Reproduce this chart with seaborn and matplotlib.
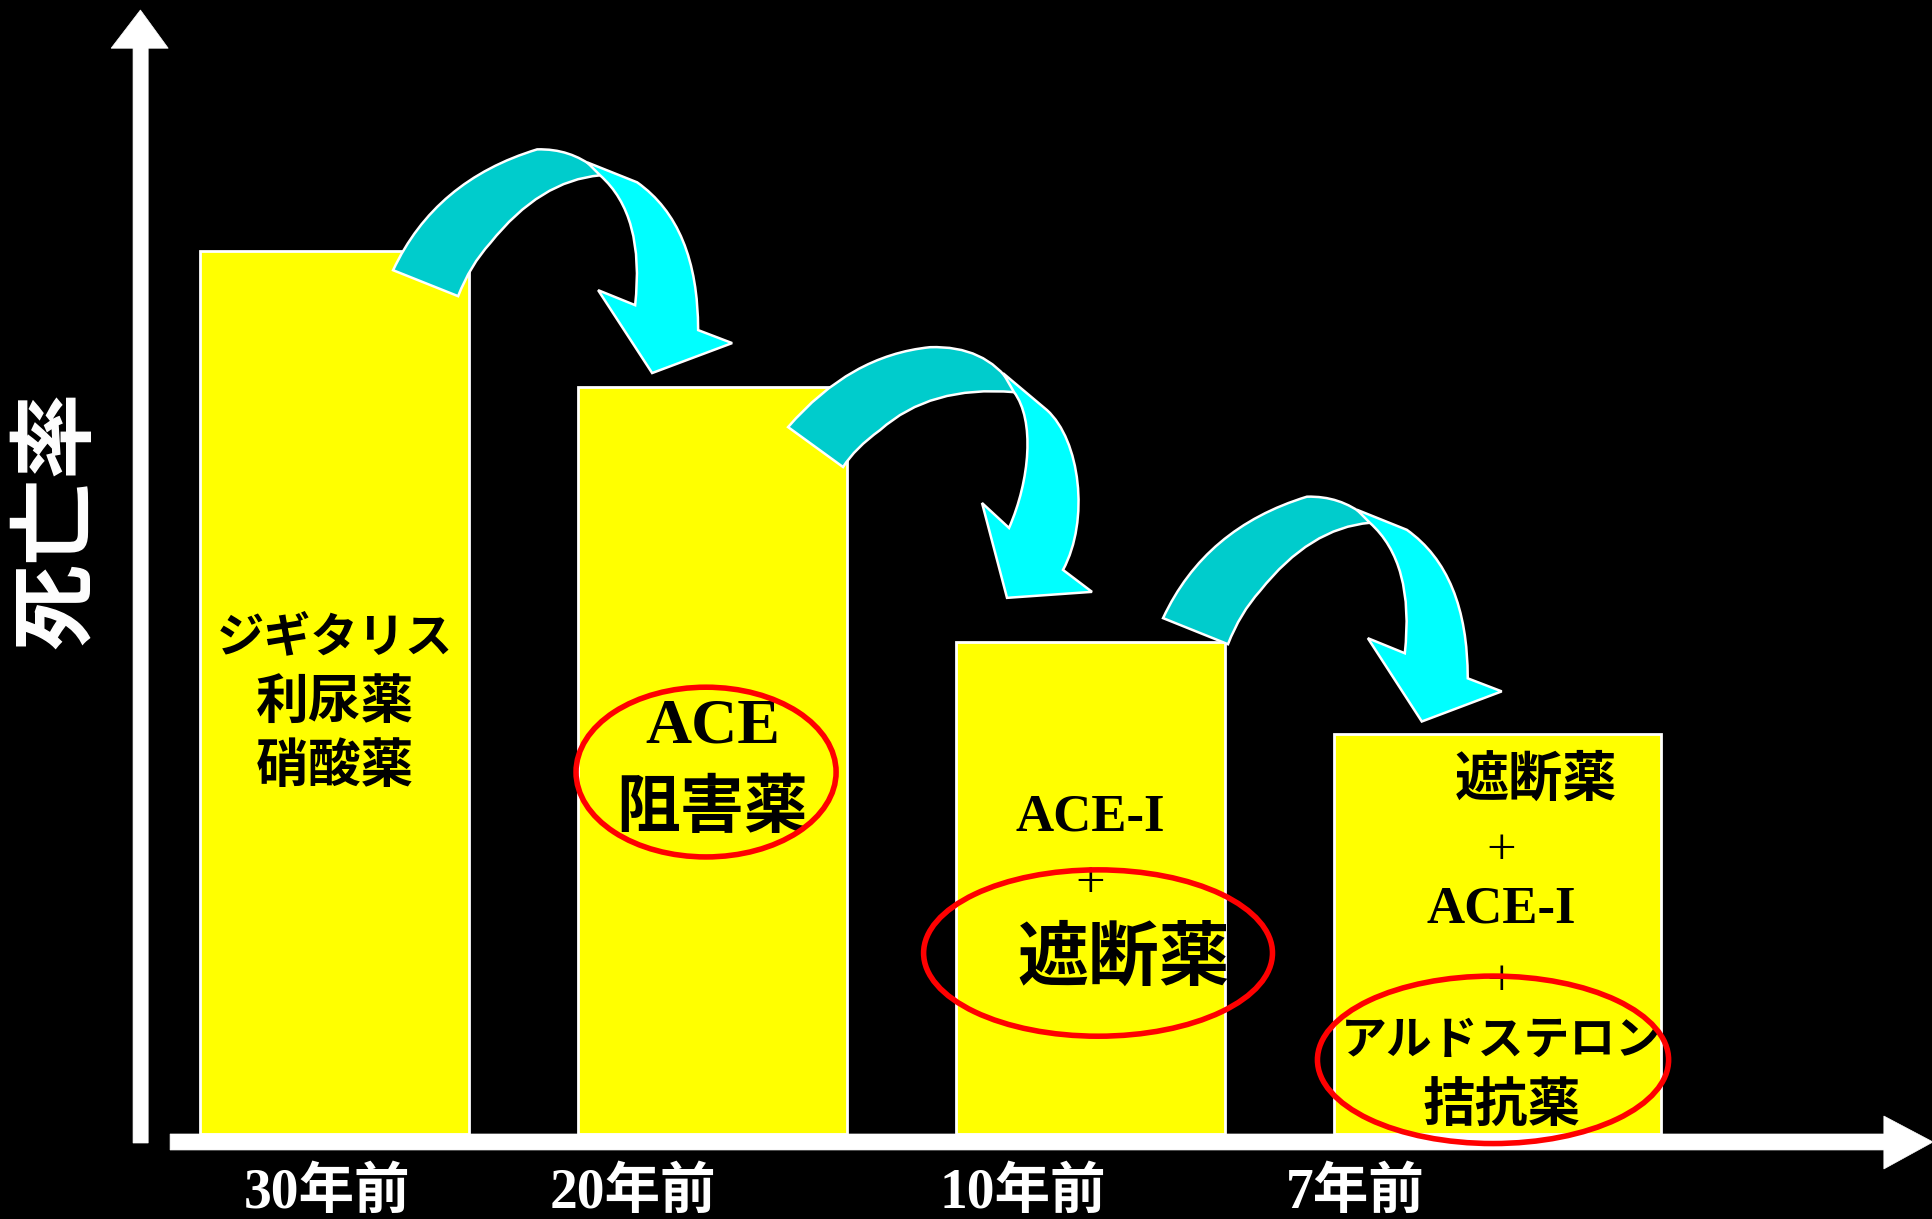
import numpy as np
import pandas as pd
import matplotlib
matplotlib.use("Agg")
import matplotlib.pyplot as plt
from matplotlib.patches import Ellipse, Polygon, PathPatch
from matplotlib.path import Path
import seaborn as sns

# ---------------- data ----------------
periods = ["30年前", "20年前", "10年前", "7年前"]
mortality = [78.6, 66.5, 43.8, 35.6]
y_label = "死亡率"

# ---------------- style ----------------
sns.set_theme(style="white")
plt.rcParams["font.family"] = ["Noto Sans CJK JP", "DejaVu Sans"]
SERIF = ["Liberation Serif", "Noto Sans CJK JP"]
SANS = ["Noto Sans CJK JP", "DejaVu Sans"]

W, H = 1933, 1219
fig = plt.figure(figsize=(W / 100, H / 100), dpi=100, facecolor="black")
ax = fig.add_axes([0, 85 / H, 1, 1124 / H])
ax.set_facecolor("black")

df = pd.DataFrame({"period": periods, "mortality": mortality})
sns.barplot(data=df, x="period", y="mortality", color="#FFFF00",
            saturation=1, edgecolor="white", linewidth=2, width=0.712,
            ax=ax, zorder=2)
# last bar is drawn wider (left edge stays in place)
bar_widths = [0.712, 0.712, 0.712, 0.865]
for p, w in zip(ax.patches, bar_widths):
    p.set_width(w)
    p.set_facecolor("#FFFF00")

ax.set_xlim(-0.885, 4.229)
ax.set_ylim(0, 100)
for s in ax.spines.values():
    s.set_visible(False)
ax.set_xticks([])
ax.set_yticks([])
ax.set_xlabel("")
ax.set_ylabel("")

# ---------------- axis arrows ----------------
xaxis_arrow = [(-0.435, 0.0), (4.099, 0.0), (4.099, 1.6), (4.229, -0.71),
               (4.099, -3.11), (4.099, -1.42), (-0.435, -1.42)]
yaxis_arrow = [(-0.533, -0.8), (-0.533, 96.6), (-0.591, 96.6), (-0.5135, 100),
               (-0.440, 96.6), (-0.493, 96.6), (-0.493, -0.8)]
for pts in (xaxis_arrow, yaxis_arrow):
    ax.add_patch(Polygon(pts, closed=True, facecolor="white", edgecolor="white",
                         lw=0.5, clip_on=False, zorder=3))

ax.text(-0.734, 54.6, y_label, rotation=90, color="white", fontsize=62,
        fontweight="bold", family=SANS, ha="center", va="center")

# ---------------- period labels ----------------
label_x = [-0.02, 0.79, 1.82, 2.70]
for lx, lab in zip(label_x, periods):
    ax.text(lx, -3.0, lab, color="white", fontsize=40, fontweight="bold",
            family=SERIF, ha="center", va="top", clip_on=False)

# ---------------- curved arrows ----------------
M, C3, C4, L, CL = Path.MOVETO, Path.CURVE3, Path.CURVE4, Path.LINETO, Path.CLOSEPOLY
# shape A (template box 393..732 x 149..373)
shape_a = dict(
    box=(393, 732, 149, 373),
    back=[((393, 270), M), ((435, 180), C3), ((537, 149), C3),
          ((570, 148), C3), ((595, 168), C3), ((600, 175), L),
          ((540, 180), C3), ((490, 243), C3),
          ((470, 265), C3), ((458, 296), C3), ((393, 270), CL)],
    front=[((587, 162), M), ((637, 182), L),
           ((698, 225), C3), ((698, 330), C3),
           ((732, 343), L), ((652, 373), L), ((598, 290), L),
           ((635, 305), L), ((645, 215), C3), ((600, 175), C3),
           ((587, 162), CL)],
)
# shape B (template box 788..1092 x 347..598)
shape_b = dict(
    box=(788, 1092, 347, 598),
    back=[((788, 427), M), ((850, 355), C3), ((930, 347), C3),
          ((985, 345), C3), ((1012, 385), C3), ((1014, 392), L),
          ((930, 385), C3), ((880, 430), C3),
          ((855, 448), C3), ((843, 467), C3), ((788, 427), CL)],
    front=[((1003, 373), M), ((1047, 410), L),
           ((1080, 440), C4), ((1090, 520), C4), ((1063, 570), C4),
           ((1092, 592), L), ((1007, 598), L), ((982, 503), L), ((1009, 528), L),
           ((1030, 480), C4), ((1035, 420), C4), ((1014, 392), C4),
           ((1003, 373), CL)],
)
arrows = [(shape_a, (0.155, 1.052, 87.6, 67.7)),
          (shape_b, (1.200, 2.004, 70.0, 47.7)),
          (shape_a, (2.192, 3.088, 56.7, 36.7))]


def mapped(shape, part, box):
    tx0, tx1, ty0, ty1 = shape["box"]
    x0, x1, yt, yb = box
    verts, codes = [], []
    for (px, py), c in shape[part]:
        u = (px - tx0) / (tx1 - tx0)
        v = (py - ty0) / (ty1 - ty0)
        verts.append((x0 + u * (x1 - x0), yt - v * (yt - yb)))
        codes.append(c)
    return Path(verts, codes)


for shape, box in arrows:
    ax.add_patch(PathPatch(mapped(shape, "back", box), facecolor="#00CCCC",
                           edgecolor="white", lw=1.8, zorder=3, clip_on=False))
    ax.add_patch(PathPatch(mapped(shape, "front", box), facecolor="#00FFFF",
                           edgecolor="white", lw=1.8, zorder=4, clip_on=False))

# ---------------- bar texts ----------------
bar_texts = [
    (0.0, 44.2, "ジギタリス", 34, "sans", "bold"),
    (0.0, 38.3, "利尿薬", 38, "sans", "bold"),
    (0.0, 32.7, "硝酸薬", 38, "sans", "bold"),
    (1.0, 36.2, "ACE", 46, "serif", "bold"),
    (1.0, 29.0, "阻害薬", 46, "sans", "bold"),
    (2.0, 28.2, "ACE-I", 38, "serif", "bold"),
    (2.0, 22.2, "+", 38, "serif", "normal"),
    (2.087, 15.6, "遮断薬", 51, "sans", "bold"),
    (3.178, 31.5, "遮断薬", 39, "sans", "bold"),
    (3.088, 25.2, "+", 38, "serif", "normal"),
    (3.088, 20.0, "ACE-I", 38, "serif", "bold"),
    (3.088, 13.5, "+", 38, "serif", "normal"),
    (3.088, 8.3, "アルドステロン", 33, "sans", "bold"),
    (3.088, 2.5, "拮抗薬", 38, "sans", "bold"),
]
for x, y, t, fs, fam, fw in bar_texts:
    ax.text(x, y, t, fontsize=fs, fontweight=fw, color="black",
            family=SERIF if fam == "serif" else SANS,
            ha="center", va="center", zorder=5, clip_on=False)

# ---------------- red highlight ellipses ----------------
ellipses = [(0.983, 32.2, 0.688, 15.1),
            (2.020, 16.1, 0.923, 14.8),
            (3.065, 6.6, 0.929, 14.9)]
for cx, cy, ew, eh in ellipses:
    ax.add_patch(Ellipse((cx, cy), ew, eh, facecolor="none", edgecolor="#FF0000",
                         lw=4.0, zorder=6, clip_on=False))

fig.savefig("out.png", dpi=100, facecolor="black")
